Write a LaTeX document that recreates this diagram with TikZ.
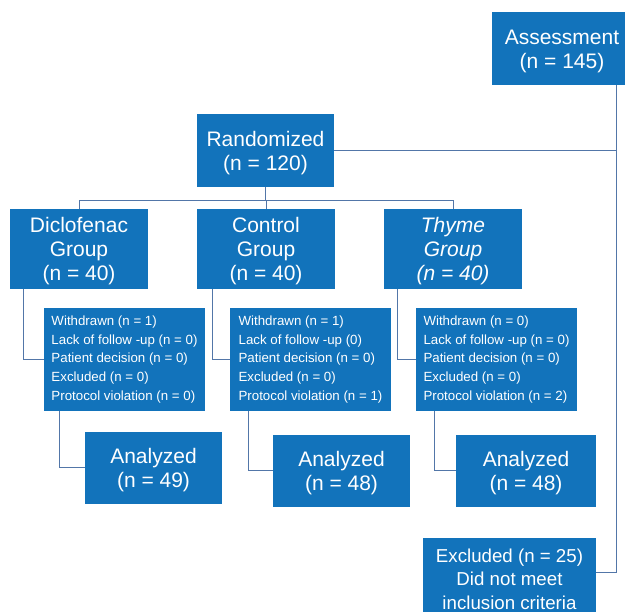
\documentclass[tikz,border=0pt]{standalone}
\usepackage{fontspec}
\setmainfont{Liberation Sans}
\definecolor{boxblue}{RGB}{18,115,187}
\definecolor{linkblue}{RGB}{82,118,168}
\newcommand{\topstrut}{\rule{0pt}{20pt}}
\begin{document}
\begin{tikzpicture}[x=1pt,y=-1pt,
  box/.style={fill=boxblue, text=white, inner sep=0pt, align=center,
    font=\fontsize{21}{24}\selectfont},
  detbox/.style={fill=boxblue, text=white, inner sep=0pt,
    align=left, minimum width=161pt, minimum height=103pt,
    font=\fontsize{13.3}{18.6}\selectfont},
  link/.style={draw=linkblue, line width=1pt}]
\useasboundingbox (0,0) rectangle (625,612);

% boxes
\node[box, minimum width=140pt, minimum height=73pt] (assess) at (562,48.5) {\topstrut Assessment\\(n = 145)};
\node[box, minimum width=137pt, minimum height=73pt] (rand) at (265.5,150.5) {\topstrut Randomized\\(n = 120)};

\node[box, minimum width=138pt, minimum height=80pt] (dicl) at (79,249) {\topstrut Diclofenac\\Group\\(n = 40)};
\node[box, minimum width=138pt, minimum height=80pt] (ctrl) at (266,249) {\topstrut Control\\Group\\(n = 40)};
\node[box, minimum width=138pt, minimum height=80pt, font=\fontsize{21}{24}\selectfont\itshape] (thy) at (453,249) {\topstrut Thyme\\Group\\(n = 40)};

\node[detbox] (ddet) at (124.5,359.5) {Withdrawn (n = 1)\\Lack of follow -up (n = 0)\\Patient decision (n = 0)\\Excluded (n = 0)\\Protocol violation (n = 0)};
\node[detbox] (cdet) at (310.5,359.5) {Withdrawn (n = 1)\\Lack of follow -up (0)\\Patient decision (n = 0)\\Excluded (n = 0)\\Protocol violation (n = 1)};
\node[detbox] (tdet) at (496.5,359.5) {Withdrawn (n = 0)\\Lack of follow -up (n = 0)\\Patient decision (n = 0)\\Excluded (n = 0)\\Protocol violation (n = 2)};

\node[box, minimum width=137pt, minimum height=72pt] (dan) at (153.5,468) {\topstrut Analyzed\\(n = 49)};
\node[box, minimum width=137pt, minimum height=72pt] (can) at (341.5,471) {\topstrut Analyzed\\(n = 48)};
\node[box, minimum width=140pt, minimum height=72pt] (tan) at (526,471) {\topstrut Analyzed\\(n = 48)};

\node[box, minimum width=173pt, inner ysep=10.5pt, anchor=north, font=\fontsize{18.7}{23.5}\selectfont] (excl) at (509.5,538) {Excluded (n = 25)\\Did not meet\\inclusion criteria};

% connectors
\coordinate (vr) at (616,151);
\coordinate (ec) at (616,573);
\coordinate (bus) at (0,201);
\draw[link] (rand.east |- vr) -- (vr);
\draw[link] (vr |- assess.south) -- (ec) -- (ec -| excl.east);

\draw[link] (rand.south) -- (rand.south |- bus);
\draw[link] (dicl.north) -- (dicl.north |- bus) -- (thy.north |- bus) -- (thy.north);
\draw[link] (ctrl.north) -- (ctrl.north |- bus);

\draw[link] ([xshift=14pt]dicl.south west) |- (ddet.west);
\draw[link] ([xshift=16pt]ctrl.south west) |- (cdet.west);
\draw[link] ([xshift=14pt]thy.south west) |- (tdet.west);

\draw[link] ([xshift=16pt]ddet.south west) |- (dan.west);
\draw[link] ([xshift=19pt]cdet.south west) |- (can.west);
\draw[link] ([xshift=19pt]tdet.south west) |- (tan.west);
\end{tikzpicture}
\end{document}
